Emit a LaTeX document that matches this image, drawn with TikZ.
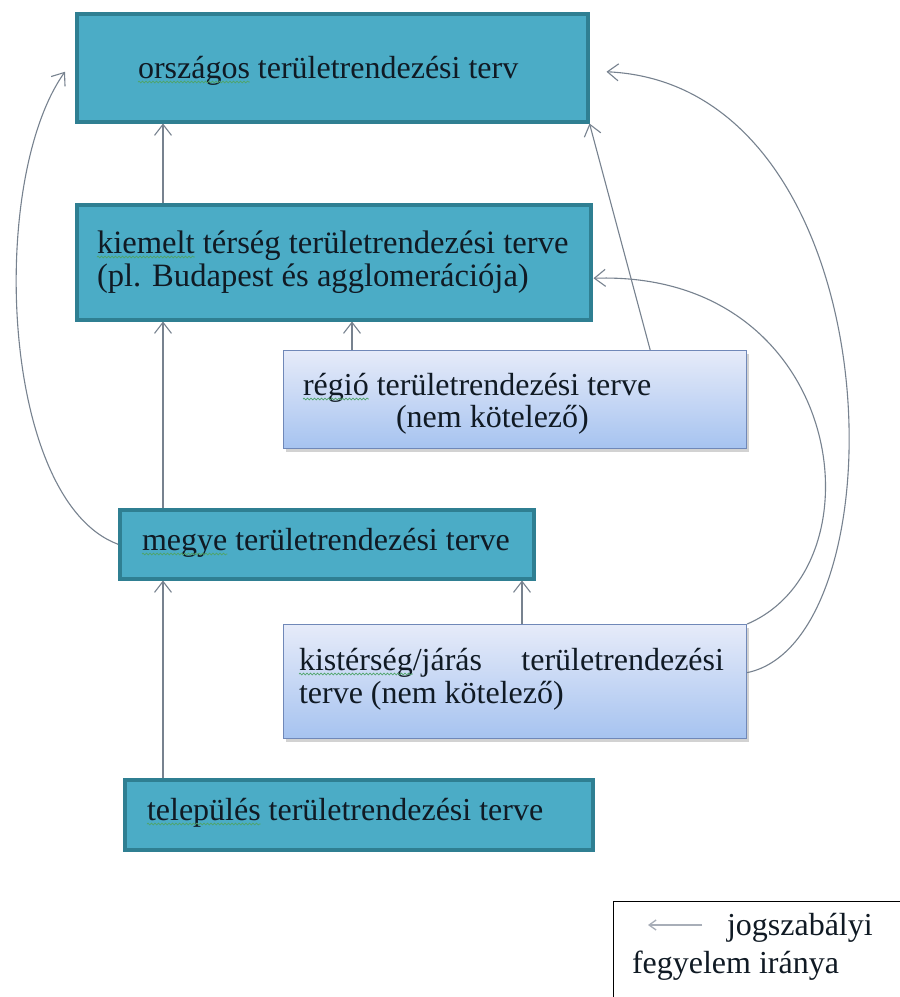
\documentclass[tikz,border=0pt]{standalone}
\usepackage{fontspec}
\setmainfont{Liberation Serif}
\usetikzlibrary{arrows.meta,shadows,decorations.pathmorphing,calc}
\definecolor{tealfill}{HTML}{4BACC6}
\definecolor{tealdraw}{HTML}{2F7F92}
\definecolor{lbtop}{HTML}{E6EBF9}
\definecolor{lbbot}{HTML}{A6C3F0}
\definecolor{lbdraw}{HTML}{7088B8}
\definecolor{conncol}{HTML}{77828F}
\definecolor{txtc}{HTML}{101A24}
\definecolor{wavec}{HTML}{4FA46A}
\definecolor{legarr}{HTML}{A8AEB8}
\begin{document}
\begin{tikzpicture}[x=1pt,y=-1pt,
 tealbox/.style={draw=tealdraw, fill=tealfill, line width=3.5pt, rectangle, inner sep=0pt, anchor=north west},
 lightbox/.style={draw=lbdraw, line width=1.2pt, rectangle, top color=lbtop, bottom color=lbbot, inner sep=0pt, anchor=north west, drop shadow={shadow xshift=2pt,shadow yshift=-3pt,opacity=0.35}},
 txt/.style={anchor=base west, inner sep=0pt, outer sep=0pt, text=txtc, font=\fontsize{32}{35}\selectfont},
 bigtxt/.style={txt, font=\fontsize{32.6}{35}\selectfont},
 conn/.style={draw=conncol, line width=1.1pt, -{Straight Barb[length=11pt,width=17pt]}},
 wavy/.style={draw=wavec, line width=0.7pt, decorate, decoration={snake, amplitude=0.9pt, segment length=3.5pt}},
]
\clip (0,0) rectangle (900,997);
\fill[white] (0,0) rectangle (900,997);

% boxes
\node[tealbox, minimum width=511pt, minimum height=108pt] (b1) at (75,12) {};
\node[tealbox, minimum width=514pt, minimum height=115pt] (b2) at (75,203) {};
\node[lightbox, minimum width=463pt, minimum height=98pt] (reg) at (283,350) {};
\node[tealbox, minimum width=414pt, minimum height=69pt] (meg) at (118,508) {};
\node[lightbox, minimum width=463pt, minimum height=114pt] (kis) at (283,624) {};
\node[tealbox, minimum width=468pt, minimum height=70pt] (tel) at (123,778) {};
\node[draw=black, line width=1.4pt, rectangle, anchor=north west, minimum width=320pt, minimum height=130pt, inner sep=0pt] (leg) at (613,901) {};

% texts
\node[txt] (t1a) at (138,78) {országos};
\node[txt] (t1b) at (t1a.base east) {\ területrendezési terv};

\node[bigtxt] (t2a) at (97,253) {kiemelt};
\node[bigtxt] (t2b) at (t2a.base east) {\ térség területrendezési terve};
\node[bigtxt] (t2c) at (97,286) {(pl. Budapest és agglomerációja)};

\node[txt] (t3a) at (303,395) {régió};
\node[txt] (t3b) at (t3a.base east) {\ területrendezési terve};
\node[txt] (t3c) at (396,427) {(nem kötelező)};

\node[txt] (t4a) at (142,550) {megye};
\node[txt] (t4b) at (t4a.base east) {\ területrendezési terve};

\node[txt] (t5a) at (299,670) {kistérség};
\node[txt] (t5b) at (t5a.base east) {/járás};
\node[txt, anchor=base east] (t5c) at (724,670) {területrendezési};
\node[txt] (t5d) at (299,703) {terve (nem kötelező)};

\node[txt] (t6a) at (147,820) {település};
\node[txt] (t6b) at (t6a.base east) {\ területrendezési terve};

\node[txt] (l1) at (727,935) {jogszabályi};
\node[txt] (l2) at (632,973) {fegyelem iránya};

% spell-check underlines
\foreach \w in {t1a,t2a,t3a,t4a,t5a,t6a}{
  \draw[wavy] ([yshift=-4pt]\w.base west) -- ([yshift=-4pt]\w.base east);
}

% straight connectors
\draw[conn] ([xshift=88pt]b2.north west) -- ([xshift=88pt]b1.south west);
\draw[conn] ([xshift=69pt]reg.north west) -- ([xshift=277pt]b2.south west);
\draw[conn] ([xshift=-97pt]reg.north east) -- (b1.south east);
\draw[conn] ([xshift=45pt]meg.north west) -- ([xshift=88pt]b2.south west);
\draw[conn] ([xshift=40pt]tel.north west) -- ([xshift=45pt]meg.south west);
\draw[conn] ([xshift=239pt]kis.north west) -- ([xshift=404pt]meg.south west);

% curved connectors
\draw[conn] (meg.west) .. controls (0,500) and (-12,180) .. ([xshift=-10pt,yshift=-4pt]b1.west);
\draw[conn] (kis.north east) .. controls (885,565) and (845,270) .. ([xshift=1pt,yshift=-16pt]b2.east);
\draw[conn] ([yshift=9pt]kis.east) .. controls (905,640) and (895,85) .. ([xshift=17pt,yshift=-4pt]b1.east);

% legend arrow
\coordinate (la) at (702,925);
\coordinate (lb) at (648,925);
\draw[draw=legarr, line width=1.3pt, -{Straight Barb[length=7pt,width=10pt]}] (la) -- (lb);
\end{tikzpicture}
\end{document}
